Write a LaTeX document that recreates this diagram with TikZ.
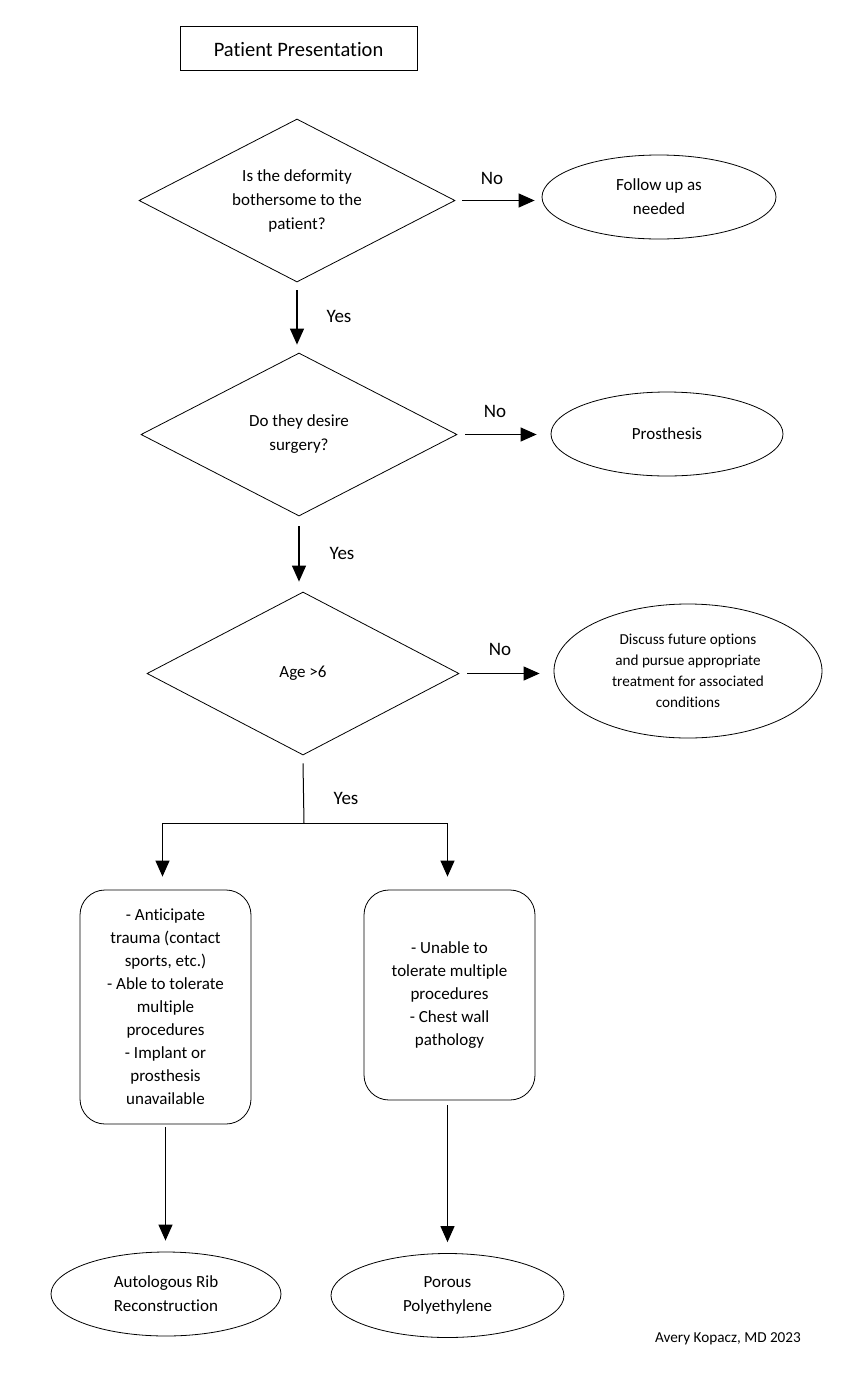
\documentclass[tikz,border=0pt]{standalone}
\usepackage{fontspec}
\setmainfont{Carlito}[Ligatures={NoCommon}]
\usetikzlibrary{shapes.geometric,arrows.meta,calc}
\begin{document}
\begin{tikzpicture}[x=1pt,y=-1pt,
  every node/.style={align=center,inner sep=0pt},
  shp/.style={draw,line width=0.8pt},
  dec/.style={shp,diamond,aspect=1.94,minimum width=316pt,minimum height=163pt,font=\fontsize{17}{24}\selectfont},
  oval/.style={shp,ellipse,minimum width=234pt,minimum height=84pt,font=\fontsize{17}{24}\selectfont},
  rbox/.style={shp,rectangle,rounded corners=25pt,minimum width=171pt,font=\fontsize{17}{23}\selectfont},
  arr/.style={line width=1.2pt,-{Triangle[width=14pt,length=16pt]}},
  lnk/.style={line width=1.0pt},
  lbl/.style={font=\fontsize{19}{22}\selectfont}]
\useasboundingbox (0,0) rectangle (848,1374);
\fill[white] (0,0) rectangle (848,1374);

\node[shp,rectangle,minimum width=237pt,minimum height=44pt,text depth=1pt,font=\fontsize{20.5}{24}\selectfont] (title) at (298.5,48) {\raisebox{-3pt}{Patient Presentation}};

\node[dec] (d1) at (297,200.5) {Is the deformity\\bothersome to the\\patient?};
\node[oval] (e1) at (659,197) {Follow up as\\needed};
\draw[arr] ([xshift=7pt]d1.east) -- ([xshift=-7pt]e1.west |- d1.east);
\node[lbl] (no1) at (492,178) {No};

\node[dec] (d2) at (299,434.5) {Do they desire\\surgery?};
\node[oval,minimum width=232pt] (e2) at (667,434) {Prosthesis};
\draw[arr] ([xshift=8pt]d2.east) -- ([xshift=-14pt]e2.west |- d2.east);
\node[lbl] (no2) at (495,411) {No};

\draw[arr] ([yshift=-8pt]d1.south) -- ([yshift=8pt]d1.south |- d2.north);
\node[lbl] (yes1) at (339,316) {Yes};

\node[dec,minimum width=312pt] (d3) at (303,673.5) {Age >6};
\node[oval,minimum width=268pt,minimum height=134pt,font=\fontsize{15.2}{21}\selectfont] (e3) at (688,671) {Discuss future options\\and pursue appropriate\\treatment for associated\\conditions};
\draw[arr] ([xshift=8pt]d3.east) -- ([xshift=-14pt]e3.west |- d3.east);
\node[lbl] (no3) at (500,649) {No};

\draw[arr] ([yshift=-10pt]d2.south) -- ([yshift=10pt]d2.south |- d3.north);
\node[lbl] (yes2) at (342,553) {Yes};

\node[rbox,minimum height=234pt] (b1) at (165.5,1007) {- Anticipate\\trauma (contact\\sports, etc.)\\- Able to tolerate\\multiple\\procedures\\- Implant or\\prosthesis\\unavailable};
\node[rbox,minimum height=210pt] (b2) at (449.5,995) {- Unable to\\tolerate multiple\\procedures\\- Chest wall\\pathology};

\coordinate (split) at (304,823);
\coordinate (sl) at (162.5,823);
\coordinate (sr) at (447.5,823);
\draw[lnk] ([yshift=-8pt]d3.south) -- (split);
\draw[lnk] (sl) -- (sr);
\draw[arr] (sl) -- ([yshift=13pt]sl |- b1.north);
\draw[arr] (sr) -- ([yshift=13pt]sr |- b2.north);
\node[lbl] (yes3) at (346,798) {Yes};

\node[oval,minimum width=230pt] (e4) at (166,1294) {Autologous Rib\\Reconstruction};
\node[oval,minimum width=233pt] (e5) at (447.5,1295.5) {Porous\\Polyethylene};
\draw[arr] ([yshift=-3pt]b1.south) -- ([yshift=11pt]b1.south |- e4.north);
\draw[arr] ([yshift=-5pt]e5.north |- b2.south) -- ([yshift=11pt]e5.north);

\node[font=\fontsize{15.2}{18}\selectfont] (auth) at (728,1339) {Avery Kopacz, MD 2023};
\end{tikzpicture}
\end{document}
